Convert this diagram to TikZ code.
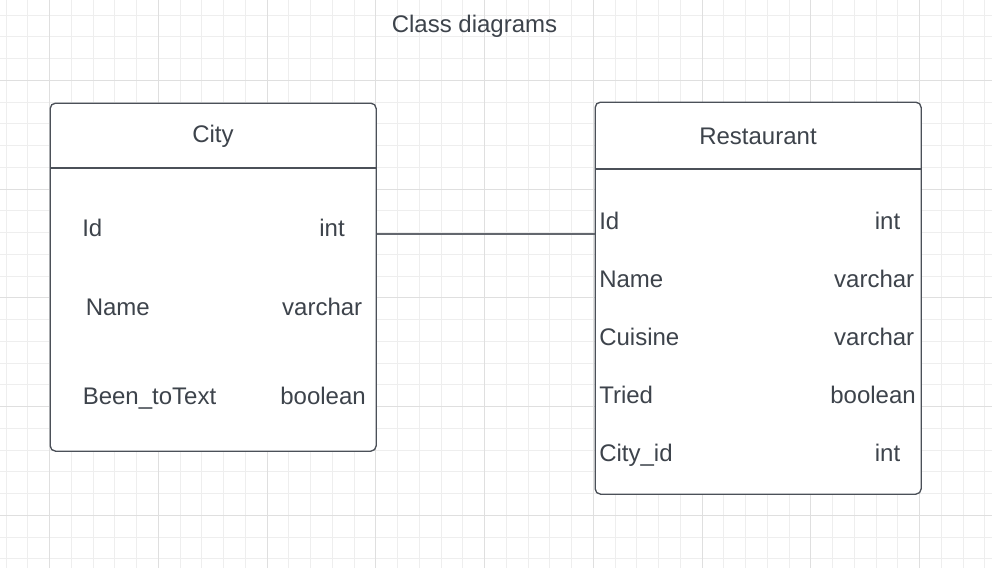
\documentclass[tikz,border=0pt]{standalone}
\usepackage{fontspec}
\setmainfont{Liberation Sans}
\definecolor{txt}{HTML}{3D434B}
\definecolor{edgec}{HTML}{4B5058}
\definecolor{connc}{HTML}{63676E}
\definecolor{gmin}{HTML}{EEEEEE}
\definecolor{gmaj}{HTML}{DFDFDF}
\begin{document}
\begin{tikzpicture}[x=0.75pt,y=-0.75pt,
 every node/.style={font=\fontsize{18}{21}\selectfont, text=txt, inner sep=0pt},
 cls/.style={draw=edgec, line width=1pt, rounded corners=4pt, fill=white, anchor=north west, minimum width=244.5pt},
 lbl/.style={anchor=base west},
 typ/.style={anchor=base east},
 ttl/.style={anchor=base},
 minorline/.style={draw=gmin, line width=0.75pt},
 majorline/.style={draw=gmaj, line width=0.75pt},
 sepline/.style={draw=edgec, line width=1pt},
 conn/.style={draw=connc, line width=1pt}]
\useasboundingbox (0,0) rectangle (992,568);
\fill[white] (0,0) rectangle (992,568);
% grid
\foreach \k in {0,...,45} {\pgfmathsetmacro\xx{6+21.75*\k}\draw[minorline] (\xx,0) -- (\xx,568);}
\foreach \k in {0,...,25} {\pgfmathsetmacro\yy{15+21.75*\k}\draw[minorline] (0,\yy) -- (992,\yy);}
\foreach \k in {0,...,8} {\pgfmathsetmacro\xx{49.5+108.75*\k}\draw[majorline] (\xx,0) -- (\xx,568);}
\foreach \k in {0,...,4} {\pgfmathsetmacro\yy{80.25+108.75*\k}\draw[majorline] (0,\yy) -- (992,\yy);}
% title
\node[ttl] (title) at (474.5,32) {Class diagrams};
% City class
\node[cls, minimum height=261pt] (city) at (49.5,102.5) {};
\draw[sepline] (city.north west) ++(0,65.5) -- ++(326,0);
\node[ttl] (citytitle) at (213,142) {City};
\node[lbl] (cid) at (82,236) {Id};
\node[typ] (cidt) at (345,236) {int};
\node[lbl] (cname) at (85.5,315) {Name};
\node[typ] (cnamet) at (362.5,315) {varchar};
\node[lbl] (cbeen) at (82.5,404) {Been\_toText};
\node[typ] (cbeent) at (366,404) {boolean};
% Restaurant class
\node[cls, minimum height=294pt] (rest) at (594.5,101.5) {};
\draw[sepline] (rest.north west) ++(0,67.5) -- ++(326,0);
\node[ttl] (resttitle) at (758,144) {Restaurant};
\node[lbl] (rid) at (599,229) {Id};
\node[typ] (ridt) at (900.5,229) {int};
\node[lbl] (rname) at (599,287) {Name};
\node[typ] (rnamet) at (914.5,287) {varchar};
\node[lbl] (rcui) at (599,345) {Cuisine};
\node[typ] (rcuit) at (914.5,345) {varchar};
\node[lbl] (rtried) at (599,403) {Tried};
\node[typ] (rtriedt) at (916,403) {boolean};
\node[lbl] (rcity) at (599,461) {City\_id};
\node[typ] (rcityt) at (900.5,461) {int};
% connector
\draw[conn] (city.east |- 0,234) -- (rest.west |- 0,234);
\end{tikzpicture}
\end{document}
